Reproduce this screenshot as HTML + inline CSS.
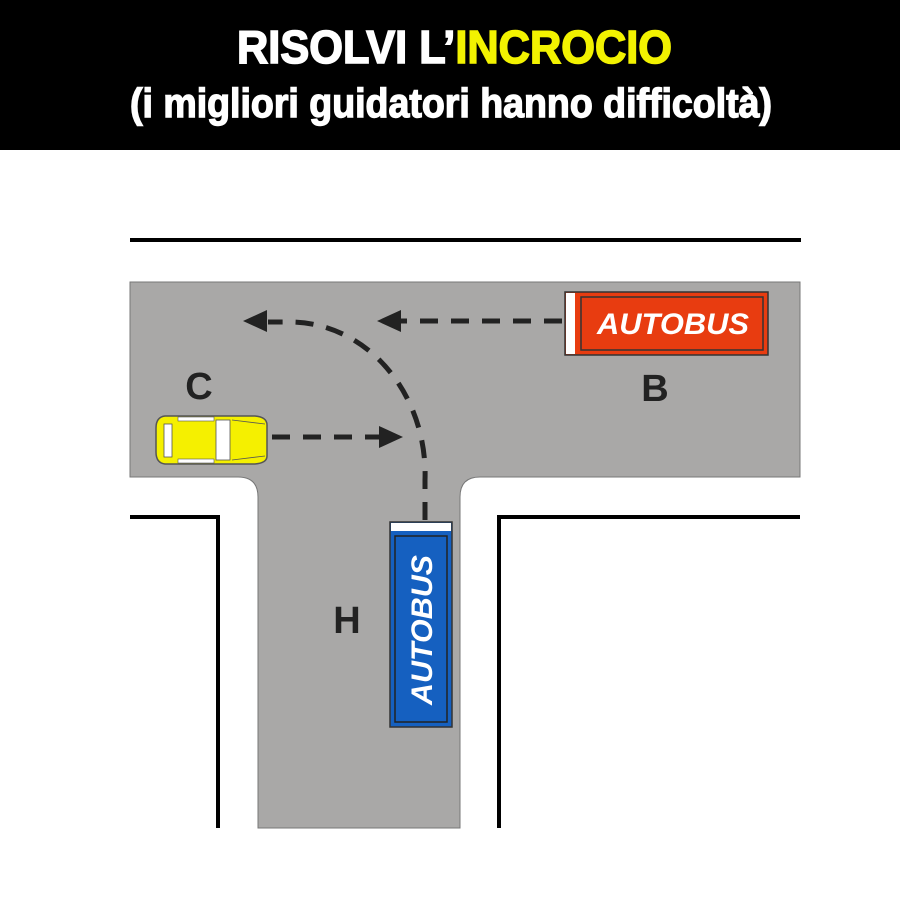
<!DOCTYPE html>
<html><head><meta charset="utf-8"><style>html,body{margin:0;padding:0;background:#fff}svg{display:block}</style></head>
<body>
<svg width="900" height="900" viewBox="0 0 900 900" xmlns="http://www.w3.org/2000/svg">
<rect x="0" y="0" width="900" height="150" fill="#000"/>
<text x="237" y="63" font-family="Liberation Sans Narrow, Liberation Sans, sans-serif" font-weight="bold" font-size="46" fill="#fff" stroke="#fff" stroke-width="1.6" textLength="435" lengthAdjust="spacingAndGlyphs">RISOLVI L’<tspan fill="#f2f200" stroke="#f2f200">INCROCIO</tspan></text>
<text x="130" y="117" font-family="Liberation Sans Narrow, Liberation Sans, sans-serif" font-weight="bold" font-size="41" fill="#fff" stroke="#fff" stroke-width="1.4" textLength="642" lengthAdjust="spacingAndGlyphs">(i migliori guidatori hanno difficoltà)</text>

<path d="M130 282 H800 V477 H480 Q460 477 460 497 V828 H258 V497 Q258 477 238 477 H130 Z" fill="#a9a8a7" stroke="#777" stroke-width="1"/>
<rect x="130" y="238" width="671" height="4" fill="#000"/>
<path d="M130 517 H218 V828" fill="none" stroke="#000" stroke-width="4"/>
<path d="M800 517 H499 V828" fill="none" stroke="#000" stroke-width="4"/>

<g stroke="#222" stroke-width="5" fill="none" stroke-dasharray="18 13">
<path d="M562 321 H392"/>
<path d="M272 437 H385"/>
<path d="M425 520 V480 A135 152 0 0 0 290 322 H268"/>
</g>
<g fill="#222">
<polygon points="377,321 401,310 401,332"/>
<polygon points="243,321 267,310 267,332"/>
<polygon points="403,437 379,426 379,448"/>
</g>

<rect x="565" y="292" width="203" height="63" fill="#e83c10" stroke="#333" stroke-width="1.5"/>
<rect x="566" y="293" width="9" height="61" fill="#fff"/>
<rect x="581" y="297" width="182" height="53" fill="none" stroke="#333" stroke-width="1.5"/>
<text x="673" y="334" text-anchor="middle" font-family="Liberation Sans, sans-serif" font-weight="bold" font-style="italic" font-size="30" fill="#fff" textLength="152" lengthAdjust="spacingAndGlyphs">AUTOBUS</text>

<rect x="390" y="522" width="62" height="205" fill="#1560c0" stroke="#333" stroke-width="1.5"/>
<rect x="391" y="523" width="60" height="8" fill="#fff"/>
<rect x="395" y="536" width="52" height="186" fill="none" stroke="#222" stroke-width="1.5"/>
<text transform="translate(432 630) rotate(-90)" text-anchor="middle" font-family="Liberation Sans, sans-serif" font-weight="bold" font-style="italic" font-size="30" fill="#fff" textLength="150" lengthAdjust="spacingAndGlyphs">AUTOBUS</text>

<path d="M165 416 H255 Q267 417 267 425 V456 Q267 463 255 464 H165 Q156 463 156 452 V428 Q156 417 165 416 Z" fill="#f5f000" stroke="#555" stroke-width="1.5"/>
<rect x="164" y="424" width="8" height="33" fill="#fff" stroke="#555" stroke-width="0.8"/>
<rect x="216" y="420" width="14" height="40" fill="#fff" stroke="#555" stroke-width="0.8"/>
<rect x="178" y="417" width="36" height="4" fill="#fff" stroke="#555" stroke-width="0.6"/>
<rect x="178" y="459" width="36" height="4" fill="#fff" stroke="#555" stroke-width="0.6"/>
<path d="M232 420 L265 424 M232 460 L265 456" stroke="#555" stroke-width="0.8"/>

<g font-family="Liberation Sans, sans-serif" font-weight="bold" font-size="38" fill="#222" text-anchor="middle">
<text x="199" y="399">C</text>
<text x="655" y="401">B</text>
<text x="347" y="633">H</text>
</g>
</svg>
</body></html>
